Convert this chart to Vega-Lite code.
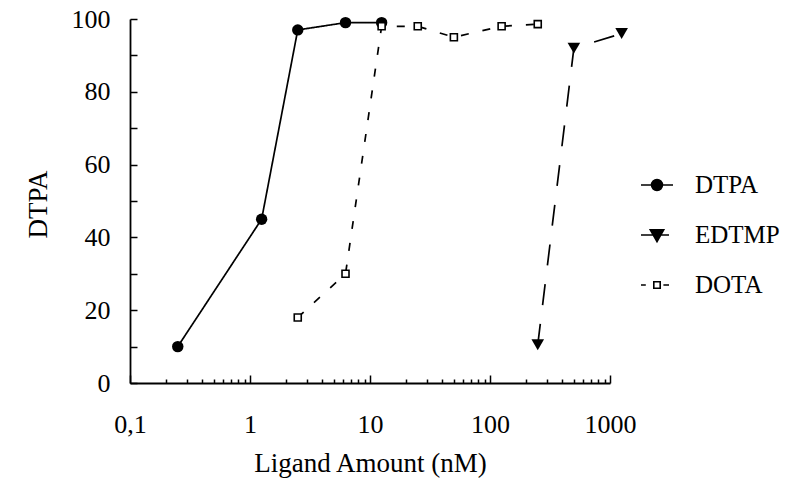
{
  "$schema": "https://vega.github.io/schema/vega-lite/v6.json",
  "width": 480,
  "height": 364,
  "autosize": "none",
  "padding": {"left": 130, "top": 19, "right": 176, "bottom": 106},
  "background": "white",
  "config": {
    "view": {"stroke": null},
    "axis": {
      "grid": false,
      "domainColor": "black",
      "domainWidth": 1.8,
      "tickColor": "black",
      "tickWidth": 1.5,
      "labelColor": "black",
      "titleColor": "black",
      "labelFont": "Liberation Serif",
      "titleFont": "Liberation Serif",
      "labelFontSize": 26,
      "titleFontSize": 27,
      "titleFontWeight": "normal"
    }
  },
  "data": {
    "values": [
      {"series": "DTPA", "amount": 0.25, "value": 10},
      {"series": "DTPA", "amount": 1.25, "value": 45},
      {"series": "DTPA", "amount": 2.5, "value": 97},
      {"series": "DTPA", "amount": 6.25, "value": 99},
      {"series": "DTPA", "amount": 12.5, "value": 99},
      {"series": "EDTMP", "amount": 250, "value": 10.5},
      {"series": "EDTMP", "amount": 500, "value": 92},
      {"series": "EDTMP", "amount": 1250, "value": 96},
      {"series": "DOTA", "amount": 2.5, "value": 18},
      {"series": "DOTA", "amount": 6.25, "value": 30},
      {"series": "DOTA", "amount": 12.5, "value": 98},
      {"series": "DOTA", "amount": 25, "value": 98},
      {"series": "DOTA", "amount": 50, "value": 95},
      {"series": "DOTA", "amount": 125, "value": 98},
      {"series": "DOTA", "amount": 250, "value": 98.6}
    ]
  },
  "encoding": {
    "x": {
      "field": "amount",
      "type": "quantitative",
      "scale": {"type": "log", "domain": [0.1, 1000], "nice": false},
      "axis": {
        "title": "Ligand Amount (nM)",
        "values": [0.1, 0.2, 0.3, 0.4, 0.5, 0.6, 0.7, 0.8, 0.9, 1, 2, 3, 4, 5, 6, 7, 8, 9, 10, 20, 30, 40, 50, 60, 70, 80, 90, 100, 200, 300, 400, 500, 600, 700, 800, 900, 1000],
        "labelExpr": "datum.value < 0.15 ? '0,1' : ((datum.value == 1 || datum.value == 10 || datum.value == 100 || datum.value == 1000) ? format(datum.value, 'd') : '')",
        "labelOverlap": false,
        "labelBound": false,
        "labelFlush": false,
        "tickSize": {"condition": {"test": "datum.value < 0.15 || datum.value == 1 || datum.value == 10 || datum.value == 100 || datum.value == 1000", "value": -8}, "value": -4},
        "labelPadding": 36,
        "titleY": 67,
        "titleBaseline": "top"
      }
    },
    "y": {
      "field": "value",
      "type": "quantitative",
      "scale": {"domain": [0, 100], "nice": false},
      "axis": {
        "title": "DTPA",
        "values": [0, 10, 20, 30, 40, 50, 60, 70, 80, 90, 100],
        "labelExpr": "datum.value % 20 == 0 ? datum.label : ''",
        "tickSize": -7,
        "labelPadding": 27,
        "titleAngle": -90,
        "titleX": -92,
        "titleY": 185,
        "titleAlign": "center",
        "titleBaseline": "middle"
      }
    }
  },
  "layer": [
    {
      "mark": {"type": "line", "color": "black", "strokeWidth": 1.7},
      "encoding": {
        "order": {"field": "amount", "type": "quantitative"},
        "strokeDash": {
          "field": "series",
          "type": "nominal",
          "scale": {"range": [[8, 14], [1, 0], [21, 19]]},
          "legend": null
        }
      }
    },
    {
      "mark": {"type": "point", "strokeWidth": 1.6, "size": 0, "filled": true},
      "encoding": {
        "shape": {
          "field": "series",
          "type": "nominal",
          "scale": {
            "domain": ["DTPA", "EDTMP", "DOTA"],
            "range": [
              "M-1,0L1,0M-0.34,0A0.34,0.34 0 1,0 0.34,0A0.34,0.34 0 1,0 -0.34,0Z",
              "M-1,0L0.75,0M-0.42,-0.32L0.42,-0.32L0,0.42Z",
              "M-1,0L-0.7,0M0.4,0L0.75,0M-0.2,-0.2L0.2,-0.2L0.2,0.2L-0.2,0.2Z"
            ]
          },
          "legend": {
            "title": null,
            "orient": "none",
            "legendX": 510,
            "legendY": 149,
            "padding": 0,
            "symbolSize": 1024,
            "symbolOpacity": 1,
            "symbolStrokeWidth": 1.6,
            "rowPadding": 20,
            "labelOffset": 21,
            "labelFont": "Liberation Serif",
            "labelFontSize": 25,
            "labelColor": "black"
          }
        },
        "fill": {
          "field": "series",
          "type": "nominal",
          "scale": {"domain": ["DTPA", "EDTMP", "DOTA"], "range": ["black", "black", "white"]}
        },
        "stroke": {
          "field": "series",
          "type": "nominal",
          "scale": {"domain": ["DTPA", "EDTMP", "DOTA"], "range": ["black", "black", "black"]}
        }
      }
    },
    {
      "transform": [{"filter": "datum.series === 'DTPA'"}],
      "mark": {"type": "point", "shape": "circle", "filled": true, "color": "black", "size": 130, "opacity": 1}
    },
    {
      "transform": [{"filter": "datum.series === 'EDTMP'"}],
      "mark": {"type": "point", "shape": "triangle-down", "filled": true, "color": "black", "size": 160, "opacity": 1}
    },
    {
      "transform": [{"filter": "datum.series === 'DOTA'"}],
      "mark": {"type": "point", "shape": "square", "filled": true, "fill": "white", "stroke": "black", "strokeWidth": 1.6, "size": 49, "opacity": 1}
    }
  ]
}
